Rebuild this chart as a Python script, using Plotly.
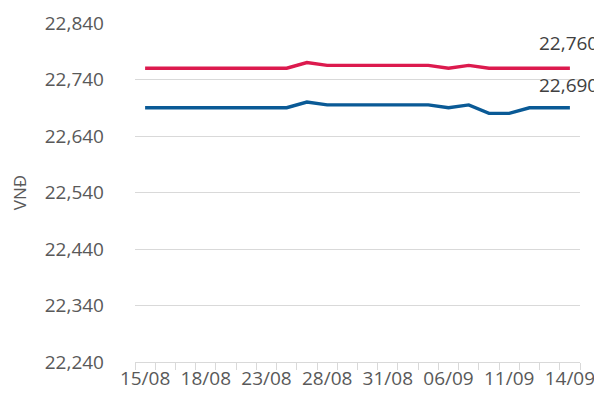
import plotly.graph_objects as go

dates = ["15/08", "16/08", "17/08", "18/08", "20/08", "21/08", "23/08", "24/08",
         "25/08", "28/08", "29/08", "30/08", "31/08", "04/09", "05/09", "06/09",
         "07/09", "10/09", "11/09", "12/09", "13/09", "14/09"]
sell = [22760, 22760, 22760, 22760, 22760, 22760, 22760, 22760,
        22770, 22765, 22765, 22765, 22765, 22765, 22765, 22760,
        22765, 22760, 22760, 22760, 22760, 22760]
buy = [22690, 22690, 22690, 22690, 22690, 22690, 22690, 22690,
       22700, 22695, 22695, 22695, 22695, 22695, 22695, 22690,
       22695, 22680, 22680, 22690, 22690, 22690]
label_dates = dates[::3]
y_ticks = [22240, 22340, 22440, 22540, 22640, 22740, 22840]

font = "Open Sans"
grey = "#595959"

fig = go.Figure()
# invisible helper trace so the boundary-tick axis is drawn
fig.add_trace(go.Scatter(x=list(range(len(dates))), y=buy, xaxis="x2", mode="lines",
                         line=dict(width=0), opacity=0, hoverinfo="skip", showlegend=False))
fig.add_trace(go.Scatter(x=dates, y=sell, mode="lines", name="Bán",
                         line=dict(color="#DC1A4E", width=3.4)))
fig.add_trace(go.Scatter(x=dates, y=buy, mode="lines", name="Mua",
                         line=dict(color="#0A5A96", width=3.4)))

fig.add_annotation(x=dates[-1], y=sell[-1], text=f"{sell[-1]:,}", showarrow=False,
                   yshift=25, xshift=-1, font=dict(family=font, size=19, color="#404040"))
fig.add_annotation(x=dates[-1], y=buy[-1], text=f"{buy[-1]:,}", showarrow=False,
                   yshift=23, xshift=-1, font=dict(family=font, size=19, color="#404040"))

fig.update_layout(
    width=594, height=395,
    margin=dict(l=127, r=22, t=15, b=41, autoexpand=False),
    paper_bgcolor="white", plot_bgcolor="white",
    showlegend=False,
    font=dict(family=font, size=19, color=grey),
    xaxis=dict(type="category", categoryorder="array", categoryarray=dates,
               range=[-0.5, len(dates) - 0.5], automargin=False,
               tickmode="array", tickvals=label_dates, ticktext=label_dates,
               ticks="", showgrid=False, zeroline=False, showline=False,
               ticklabelstandoff=3,
               tickfont=dict(family=font, size=19, color=grey)),
    xaxis2=dict(overlaying="x", anchor="y", side="bottom", automargin=False,
                range=[-0.5, len(dates) - 0.5],
                tickmode="linear", tick0=-0.5, dtick=1,
                ticks="outside", ticklen=7, tickcolor="#D9D9D9", tickwidth=1,
                showticklabels=False, showgrid=False, zeroline=False,
                showline=True, linecolor="#D9D9D9", linewidth=1),
    yaxis=dict(range=[22240, 22840], tickmode="array", tickvals=y_ticks,
               tickformat=",", showgrid=True, gridcolor="#D9D9D9", gridwidth=1,
               zeroline=False, showline=False, ticks="", ticklabelstandoff=30,
               automargin=False,
               tickfont=dict(family=font, size=19, color=grey),
               title=dict(text="VNĐ", standoff=17,
                          font=dict(family=font, size=17, color=grey))),
)

fig.write_html("out.html")
